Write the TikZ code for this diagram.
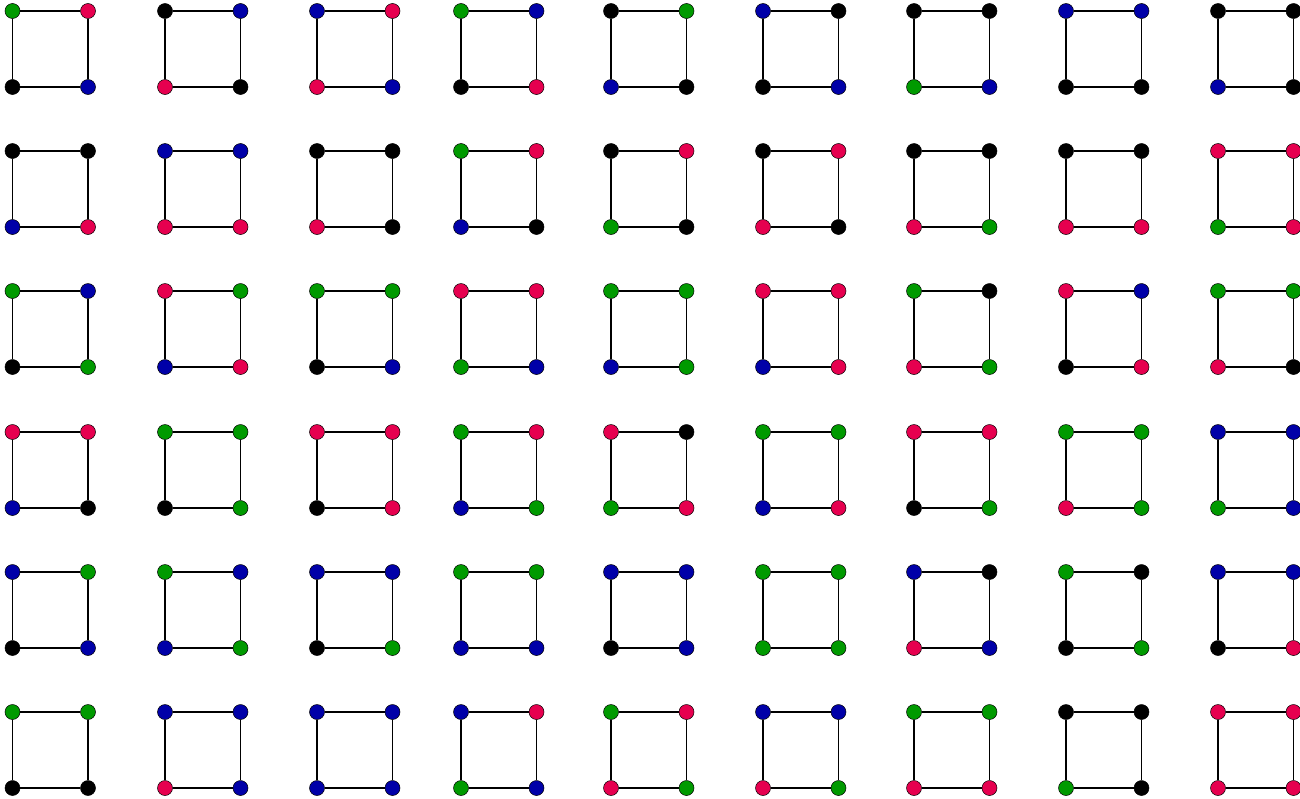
\documentclass[tikz,border=0pt]{standalone}
\usepackage{tikz}
\definecolor{gn}{HTML}{009A00}
\definecolor{rd}{HTML}{E6004F}
\definecolor{bl}{HTML}{0000A8}
\definecolor{bk}{HTML}{000000}

\begin{document}
\begin{tikzpicture}[x=1pt,y=-1pt,
  vtx/.style={circle,draw=black,line width=0.5pt,inner sep=0pt,minimum size=15pt},
  cyc/.style={line width=1.5pt}]
  \useasboundingbox (0,0) rectangle (1300,798);
  % one row of squares per entry: corner colours top-left/top-right/bottom-left/bottom-right
  \foreach \y/\row [count=\r] in {
    11/{gn/rd/bk/bl, bk/bl/rd/bk, bl/rd/rd/bl, gn/bl/bk/rd, bk/gn/bl/bk, bl/bk/bk/bl, bk/bk/gn/bl, bl/bl/bk/bk, bk/bk/bl/bk},
    151/{bk/bk/bl/rd, bl/bl/rd/rd, bk/bk/rd/bk, gn/rd/bl/bk, bk/rd/gn/bk, bk/rd/rd/bk, bk/bk/rd/gn, bk/bk/rd/rd, rd/rd/gn/rd},
    291/{gn/bl/bk/gn, rd/gn/bl/rd, gn/gn/bk/bl, rd/rd/gn/bl, gn/gn/bl/gn, rd/rd/bl/rd, gn/bk/rd/gn, rd/bl/bk/rd, gn/gn/rd/bk},
    432/{rd/rd/bl/bk, gn/gn/bk/gn, rd/rd/bk/rd, gn/rd/bl/gn, rd/bk/gn/rd, gn/gn/bl/rd, rd/rd/bk/gn, gn/gn/rd/gn, bl/bl/gn/bl},
    572/{bl/gn/bk/bl, gn/bl/bl/gn, bl/bl/bk/gn, gn/gn/bl/bl, bl/bl/bk/bl, gn/gn/gn/gn, bl/bk/rd/bl, gn/bk/bk/gn, bl/bl/bk/rd},
    712/{gn/gn/bk/bk, bl/bl/rd/bl, bl/bl/bl/bl, bl/rd/gn/bl, gn/rd/rd/gn, bl/bl/rd/gn, gn/gn/rd/rd, bk/bk/gn/bk, rd/rd/rd/rd}} {
    \foreach \a/\b/\c/\d [count=\i] in \row {
      \pgfmathsetmacro{\x}{{12.5,165,317,461,611,763,914,1066,1218}[\i-1]}
      \node[vtx,fill=\a] (tl-\r-\i) at (\x,\y) {};
      \node[vtx,fill=\b] (tr-\r-\i) at (\x+75.5,\y) {};
      \node[vtx,fill=\c] (bl-\r-\i) at (\x,\y+76) {};
      \node[vtx,fill=\d] (br-\r-\i) at (\x+75.5,\y+76) {};
      \draw[cyc] (tl-\r-\i) -- (tr-\r-\i) -- (br-\r-\i) -- (bl-\r-\i) -- (tl-\r-\i);
    }
  }
\end{tikzpicture}
\end{document}
